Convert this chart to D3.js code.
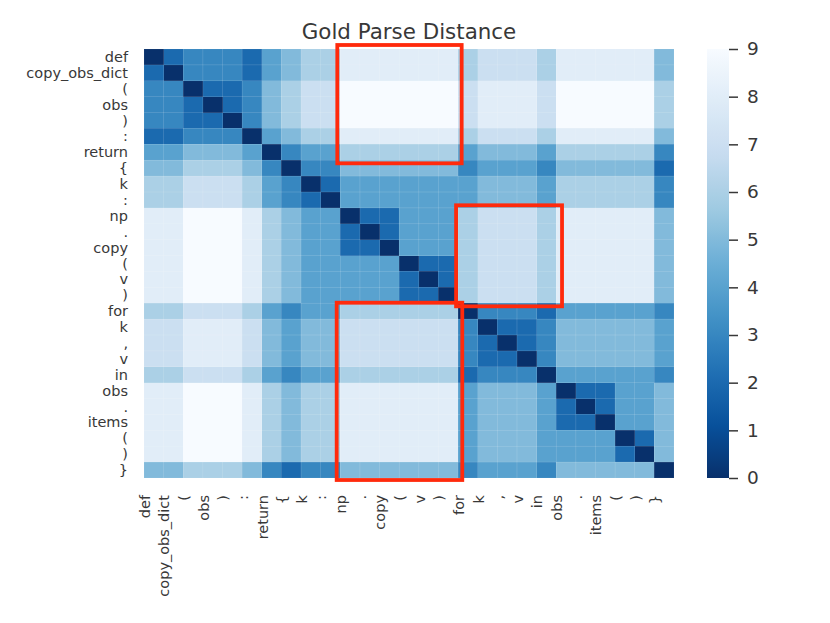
<!DOCTYPE html>
<html>
<head>
<meta charset="utf-8">
<script src="https://cdn.jsdelivr.net/npm/d3@7"></script>
<style>
  html, body { margin: 0; padding: 0; background: #ffffff; }
  svg { display: block; }
  text { font-family: "DejaVu Sans", sans-serif; fill: #383838; }
</style>
</head>
<body>
<svg id="chart" width="830" height="623"></svg>
<script>
// ---------------- data ----------------
const tokens = ["def","copy_obs_dict","(","obs",")",":","return","{","k",":",
  "np",".","copy","(","v",")","for","k",",","v","in","obs",".","items","(",")","}"];

const distances = [
  [0,2,3,3,3,2,4,5,6,6,8,8,8,8,8,8,6,7,7,7,6,8,8,8,8,8,5],
  [2,0,3,3,3,2,4,5,6,6,8,8,8,8,8,8,6,7,7,7,6,8,8,8,8,8,5],
  [3,3,0,2,2,3,5,6,7,7,9,9,9,9,9,9,7,8,8,8,7,9,9,9,9,9,6],
  [3,3,2,0,2,3,5,6,7,7,9,9,9,9,9,9,7,8,8,8,7,9,9,9,9,9,6],
  [3,3,2,2,0,3,5,6,7,7,9,9,9,9,9,9,7,8,8,8,7,9,9,9,9,9,6],
  [2,2,3,3,3,0,4,5,6,6,8,8,8,8,8,8,6,7,7,7,6,8,8,8,8,8,5],
  [4,4,5,5,5,4,0,3,4,4,6,6,6,6,6,6,4,5,5,5,4,6,6,6,6,6,3],
  [5,5,6,6,6,5,3,0,3,3,5,5,5,5,5,5,3,4,4,4,3,5,5,5,5,5,2],
  [6,6,7,7,7,6,4,3,0,2,4,4,4,4,4,4,4,5,5,5,4,6,6,6,6,6,3],
  [6,6,7,7,7,6,4,3,2,0,4,4,4,4,4,4,4,5,5,5,4,6,6,6,6,6,3],
  [8,8,9,9,9,8,6,5,4,4,0,2,2,4,4,4,6,7,7,7,6,8,8,8,8,8,5],
  [8,8,9,9,9,8,6,5,4,4,2,0,2,4,4,4,6,7,7,7,6,8,8,8,8,8,5],
  [8,8,9,9,9,8,6,5,4,4,2,2,0,4,4,4,6,7,7,7,6,8,8,8,8,8,5],
  [8,8,9,9,9,8,6,5,4,4,4,4,4,0,2,2,6,7,7,7,6,8,8,8,8,8,5],
  [8,8,9,9,9,8,6,5,4,4,4,4,4,2,0,2,6,7,7,7,6,8,8,8,8,8,5],
  [8,8,9,9,9,8,6,5,4,4,4,4,4,2,2,0,6,7,7,7,6,8,8,8,8,8,5],
  [6,6,7,7,7,6,4,3,4,4,6,6,6,6,6,6,0,3,3,3,2,4,4,4,4,4,3],
  [7,7,8,8,8,7,5,4,5,5,7,7,7,7,7,7,3,0,2,2,3,5,5,5,5,5,4],
  [7,7,8,8,8,7,5,4,5,5,7,7,7,7,7,7,3,2,0,2,3,5,5,5,5,5,4],
  [7,7,8,8,8,7,5,4,5,5,7,7,7,7,7,7,3,2,2,0,3,5,5,5,5,5,4],
  [6,6,7,7,7,6,4,3,4,4,6,6,6,6,6,6,2,3,3,3,0,4,4,4,4,4,3],
  [8,8,9,9,9,8,6,5,6,6,8,8,8,8,8,8,4,5,5,5,4,0,2,2,4,4,5],
  [8,8,9,9,9,8,6,5,6,6,8,8,8,8,8,8,4,5,5,5,4,2,0,2,4,4,5],
  [8,8,9,9,9,8,6,5,6,6,8,8,8,8,8,8,4,5,5,5,4,2,2,0,4,4,5],
  [8,8,9,9,9,8,6,5,6,6,8,8,8,8,8,8,4,5,5,5,4,4,4,4,0,2,5],
  [8,8,9,9,9,8,6,5,6,6,8,8,8,8,8,8,4,5,5,5,4,4,4,4,2,0,5],
  [5,5,6,6,6,5,3,2,3,3,5,5,5,5,5,5,3,4,4,4,3,5,5,5,5,5,0]
];

const colorbarTicks = [0,1,2,3,4,5,6,7,8,9];
const titleText = "Gold Parse Distance";

// highlighted blocks: row span [r0, r1), column span [c0, c1)
const highlightRows0 = [0, 10, 16];
const highlightRows1 = [7, 16, 27];
const highlightCols0 = [10, 16, 10];
const highlightCols1 = [16, 21, 16];

// matplotlib "Blues" anchor colours (reversed for Blues_r)
const bluesStops = ["#f7fbff","#deebf7","#c6dbef","#9ecae1","#6baed6","#4292c6","#2171b5","#08519c","#08306b"];

// ---------------- layout ----------------
const svg = d3.select("#chart");
const hm = { left: 144, right: 674, top: 49, bottom: 478 };
const cb = { left: 707, right: 729 };

const idx = d3.range(tokens.length);
const x = d3.scaleBand().domain(idx).range([hm.left, hm.right]);
const y = d3.scaleBand().domain(idx).range([hm.top, hm.bottom]);

const vmin = 0, vmax = 9;
const color = d3.scaleLinear()
  .domain(d3.range(bluesStops.length).map(i => vmax - i * (vmax - vmin) / (bluesStops.length - 1)))
  .range(bluesStops)
  .interpolate(d3.interpolateRgb)
  .clamp(true);

// ---------------- cells ----------------
const cells = [];
distances.forEach((row, r) => row.forEach((v, c) => cells.push({ r, c, v })));

svg.append("g")
  .selectAll("rect")
  .data(cells)
  .join("rect")
  .attr("x", d => x(d.c))
  .attr("y", d => y(d.r))
  .attr("width", x.bandwidth() + 0.4)
  .attr("height", y.bandwidth() + 0.4)
  .attr("fill", d => color(d.v))
  .attr("shape-rendering", "crispEdges");

// faint cell seams like the reference
svg.append("g")
  .selectAll("rect")
  .data(cells)
  .join("rect")
  .attr("x", d => x(d.c))
  .attr("y", d => y(d.r))
  .attr("width", x.bandwidth())
  .attr("height", y.bandwidth())
  .attr("fill", "none")
  .attr("stroke", "#ffffff")
  .attr("stroke-opacity", 0.12)
  .attr("stroke-width", 0.6);

// ---------------- y tick labels ----------------
svg.append("g")
  .selectAll("text")
  .data(idx)
  .join("text")
  .attr("x", hm.left - 16)
  .attr("y", d => y(d) + y.bandwidth() / 2)
  .attr("dy", "0.35em")
  .attr("text-anchor", "end")
  .style("font-size", "14.5px")
  .text(d => tokens[d]);

// ---------------- x tick labels ----------------
svg.append("g")
  .selectAll("text")
  .data(idx)
  .join("text")
  .attr("transform", d => `translate(${x(d) + x.bandwidth() / 2 - 4},${hm.bottom + 17}) rotate(-90)`)
  .attr("text-anchor", "end")
  .style("font-size", "14.5px")
  .text(d => tokens[d]);

// ---------------- title ----------------
svg.append("text")
  .attr("x", (hm.left + hm.right) / 2)
  .attr("y", 39)
  .attr("text-anchor", "middle")
  .style("font-size", "21.4px")
  .text(titleText);

// ---------------- highlight boxes ----------------
const padL = [3, 2, 3.6], padR = [3.6, 5.8, 4.2], padT = [4, 2.6, 0.5], padB = [3.1, 3.1, 2];
svg.append("g")
  .selectAll("rect")
  .data(highlightRows0.map((r0, i) => ({ r0, r1: highlightRows1[i], c0: highlightCols0[i], c1: highlightCols1[i], i })))
  .join("rect")
  .attr("x", d => x(d.c0) - padL[d.i])
  .attr("y", d => y(d.r0) - padT[d.i])
  .attr("width", d => (d.c1 < tokens.length ? x(d.c1) : hm.right) - x(d.c0) + padL[d.i] + padR[d.i])
  .attr("height", d => (d.r1 < tokens.length ? y(d.r1) : hm.bottom) - y(d.r0) + padT[d.i] + padB[d.i])
  .attr("fill", "none")
  .attr("stroke", "#ff2a0c")
  .attr("stroke-width", 3.8);

// ---------------- colorbar ----------------
const cbScale = d3.scaleLinear().domain([vmin, vmax]).range([hm.bottom, hm.top]);
const defs = svg.append("defs");
const grad = defs.append("linearGradient")
  .attr("id", "cbgrad")
  .attr("x1", 0).attr("y1", 1).attr("x2", 0).attr("y2", 0);
grad.selectAll("stop")
  .data(d3.range(0, 1.0001, 0.02))
  .join("stop")
  .attr("offset", t => t)
  .attr("stop-color", t => color(vmin + t * (vmax - vmin)));

svg.append("rect")
  .attr("x", cb.left)
  .attr("y", hm.top)
  .attr("width", cb.right - cb.left)
  .attr("height", hm.bottom - hm.top)
  .attr("fill", "url(#cbgrad)");

const cbAxis = d3.axisRight(cbScale)
  .tickValues(colorbarTicks)
  .tickFormat(d3.format("d"))
  .tickSize(9)
  .tickPadding(9);

const cbG = svg.append("g")
  .attr("transform", `translate(${cb.right},0)`)
  .call(cbAxis);
cbG.select(".domain").remove();
cbG.selectAll(".tick line").attr("stroke", "#383838").attr("stroke-width", 1.5);
cbG.selectAll(".tick text")
  .style("font-family", "'DejaVu Sans', sans-serif")
  .style("font-size", "18.5px")
  .attr("fill", "#383838");
</script>
</body>
</html>
